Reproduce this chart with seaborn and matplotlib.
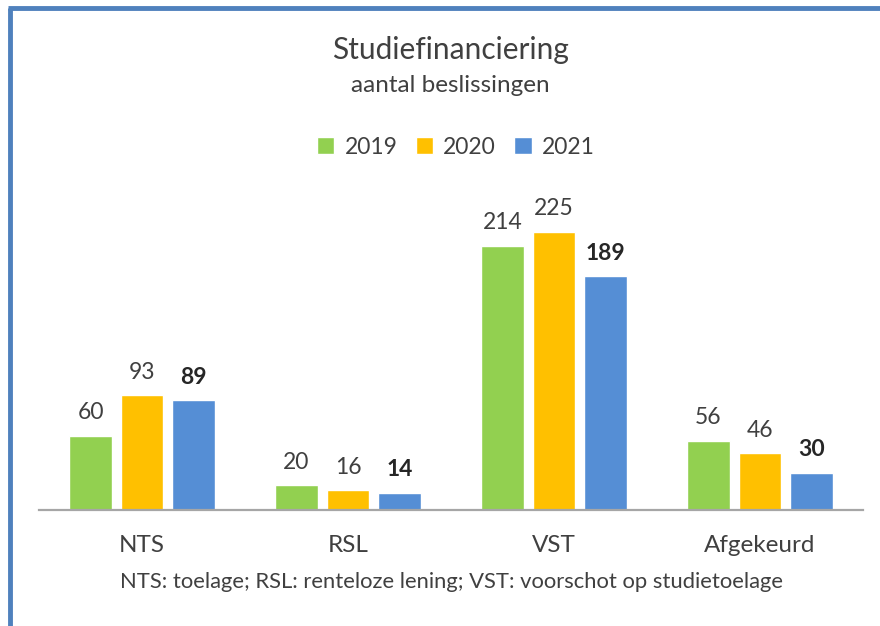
import pandas as pd
import matplotlib.pyplot as plt
import seaborn as sns
from matplotlib.lines import Line2D

# chart values
categories = ["NTS", "RSL", "VST", "Afgekeurd"]
years = ["2019", "2020", "2021"]
values_2019 = [60, 20, 214, 56]
values_2020 = [93, 16, 225, 46]
values_2021 = [89, 14, 189, 30]

colors = ["#92D050", "#FFC000", "#558ED5"]
text_col = "#404040"

df = pd.DataFrame({
    "category": categories * 3,
    "year": [y for y in years for _ in categories],
    "amount": values_2019 + values_2020 + values_2021,
})

sns.set_style("white")
plt.rcParams["font.family"] = ["Lato", "DejaVu Sans"]

fig = plt.figure(figsize=(8.8, 6.26), dpi=100)
ax = fig.add_axes([39 / 880, 1 - 510 / 626, 824 / 880, 330 / 626])

sns.barplot(data=df, x="category", y="amount", hue="year", palette=colors,
            width=0.75, gap=0.17, saturation=1, ax=ax)

ax.set_xlim(-0.5, 3.5)
ax.set_ylim(0, 267)

# data labels, 2021 in bold
for i, cont in enumerate(ax.containers):
    bold = i == 2
    ax.bar_label(cont, padding=9, fontsize=16.5,
                 fontweight="bold" if bold else "normal",
                 color="#262626" if bold else text_col)

for side in ["top", "right", "left"]:
    ax.spines[side].set_visible(False)
ax.spines["bottom"].set_color("#A6A6A6")
ax.spines["bottom"].set_linewidth(1.6)
ax.set_yticks([])
ax.set_xlabel("")
ax.set_ylabel("")
ax.tick_params(axis="x", length=0, pad=18, labelsize=17.5, labelcolor=text_col)

sns.move_legend(ax, "center", bbox_to_anchor=(456 / 880, 1 - 147 / 626),
                bbox_transform=fig.transFigure, ncol=3, frameon=False, title=None,
                fontsize=16.5, handlelength=0.75, handleheight=0.75,
                handletextpad=0.45, columnspacing=0.8)
for t in ax.get_legend().get_texts():
    t.set_color(text_col)

fig.text(450 / 880, 1 - 50 / 626, "Studiefinanciering", ha="center", va="center",
         fontsize=21.5, color=text_col)
fig.text(450 / 880, 1 - 86 / 626, "aantal beslissingen", ha="center", va="center",
         fontsize=17.5, color=text_col)
fig.text(451 / 880, 1 - 582 / 626,
         "NTS: toelage; RSL: renteloze lening; VST: voorschot op studietoelage",
         ha="center", va="center", fontsize=15.8, color=text_col)

# blue frame on left and top edge (screenshot crop)
frame_col = "#4F81BD"
fig.add_artist(Line2D([9.5 / 880, 9.5 / 880], [0, 1 - 8 / 626], color=frame_col,
                      lw=3.5, transform=fig.transFigure, solid_capstyle="butt"))
fig.add_artist(Line2D([7.5 / 880, 1], [1 - 8 / 626, 1 - 8 / 626], color=frame_col,
                      lw=3.5, transform=fig.transFigure, solid_capstyle="butt"))

fig.savefig("out.png", dpi=100)
